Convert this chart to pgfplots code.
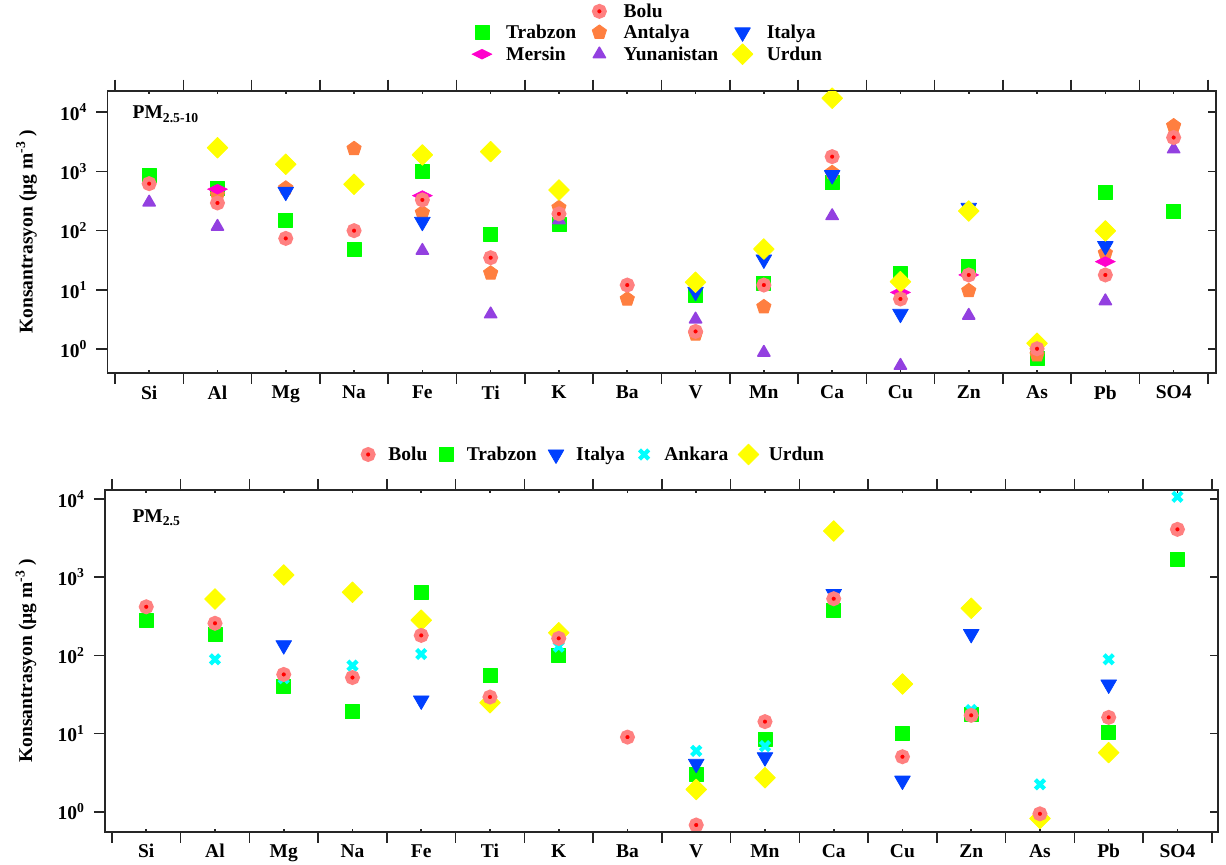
\documentclass[border=0pt]{standalone}
\usepackage{pgfplots}
\pgfplotsset{compat=1.18}
\usepackage{fontspec}
\setmainfont{Liberation Serif}
\definecolor{cBolu}{RGB}{255,128,128}
\definecolor{cTrab}{RGB}{0,255,0}
\definecolor{cAnt}{RGB}{255,127,64}
\definecolor{cIta}{RGB}{0,64,255}
\definecolor{cMer}{RGB}{255,0,204}
\definecolor{cYun}{RGB}{147,64,224}
\definecolor{cUrd}{RGB}{255,255,0}
\definecolor{cAnk}{RGB}{0,255,255}
\pgfplotsset{
  sBolu/.style={only marks, mark=*, mark size=4.9bp, mark options={draw=cBolu, fill=red, line width=5bp}},
  sTrab/.style={only marks, mark=square*, mark size=7bp, mark options={draw=cTrab, fill=cTrab, line width=0.8bp, line join=round}},
  sAnt/.style={only marks, mark=pentagon*, mark size=7.5bp, mark options={draw=cAnt, fill=cAnt, line width=0.8bp, line join=round}},
  sIta/.style={only marks, mark=triangle*, mark size=9bp, mark options={draw=cIta, fill=cIta, rotate=180, line width=0.8bp, line join=round}},
  sMer/.style={only marks, mark=diamond*, mark size=10bp, mark options={draw=cMer, fill=cMer, xscale=1.33, yscale=0.5, line width=0.5bp}},
  sYun/.style={only marks, mark=triangle*, mark size=7bp, mark options={draw=cYun, fill=cYun, line width=1.5bp, line join=round}},
  sUrd/.style={only marks, mark=square*, mark size=7.3bp, mark options={draw=cUrd, fill=cUrd, rotate=45, line width=0.8bp, line join=round}},
  sAnk/.style={only marks, mark=x, mark size=6.5bp, mark options={draw=cAnk, line width=4.2bp}},
}
\begin{document}
\begin{tikzpicture}[font=\fontsize{19.5bp}{23bp}\selectfont\bfseries]
\useasboundingbox (0,0) rectangle (1226bp,-865bp);
% ---------- top panel ----------
\begin{axis}[at={(107.5bp,-373bp)}, anchor=south west, width=1108.5bp, height=282.3bp,
  scale only axis, ymode=log, yminorticks=false, clip=false,
  xmin=-0.61, xmax=15.62, ymin=0.398, ymax=22900,
  axis line style={line width=1.6bp, black!85},
  tick style={line width=1.6bp, black!85},
  major tick length=11bp, tick align=outside,
  xtick={-0.5,0.5,...,15.5}, xticklabels={},
  xtick pos=both, ytick pos=left,
  ytick={1,10,100,1000,10000},
  yticklabels={10\textsuperscript{0},10\textsuperscript{1},10\textsuperscript{2},10\textsuperscript{3},10\textsuperscript{4}},
  yticklabel style={xshift=-6bp},
  extra x ticks={0,1,...,15},
  extra x tick labels={Si,Al,Mg,Na,Fe,Ti,K,Ba,V,Mn,Ca,Cu,Zn,As,Pb,SO4},
  extra x tick style={major tick length=3bp, tick align=inside, tick label style={yshift=-9bp}},
  ylabel={Konsantrasyon (µg m\textsuperscript{-3} )},
  ylabel style={at={(axis description cs:-0.073,0.5)}, anchor=center},
  legend columns=3, legend cell align=left,
  legend image code/.code={\path (-9bp,0bp) (22bp,0bp); \draw[mark repeat=2,mark phase=2,#1] plot coordinates {(-1bp,0bp) (0bp,0bp) (1bp,0bp)};},
  legend style={draw=none, fill=none, anchor=south, at={(axis description cs:0.4876,1)}, yshift=24bp, row sep=2bp,
     /tikz/every even column/.append style={column sep=12bp}}]
\addlegendimage{empty legend}\addlegendentry{}
\addlegendimage{sBolu}\addlegendentry{Bolu}
\addlegendimage{empty legend}\addlegendentry{}
\addlegendimage{sTrab}\addlegendentry{Trabzon}
\addlegendimage{sAnt}\addlegendentry{Antalya}
\addlegendimage{sIta}\addlegendentry{Italya}
\addlegendimage{sMer}\addlegendentry{Mersin}
\addlegendimage{sYun}\addlegendentry{Yunanistan}
\addlegendimage{sUrd}\addlegendentry{Urdun}
\addplot[sTrab, forget plot] coordinates {(0,870) (1,520) (2,151) (3,48.6) (4,1015) (5,87) (6,129) (8,8.2) (9,13) (10,645) (11,19.2) (12,24.7) (13,0.70) (14,437) (15,210)};
\addplot[sAnt, forget plot] coordinates {(1,400) (2,520) (3,2410) (4,200) (5,19.2) (6,244) (7,7.0) (8,1.8) (9,5.2) (10,950) (12,9.7) (13,0.80) (14,41.6) (15,5830)};
\addplot[sIta, forget plot] coordinates {(2,453) (4,141) (8,9.3) (9,32.7) (10,863) (11,3.97) (12,243) (14,55)};
\addplot[sMer, forget plot] coordinates {(1,500) (4,390) (11,9.1) (12,17.9) (14,30)};
\addplot[sYun, forget plot] coordinates {(0,300) (1,117) (4,46) (5,3.9) (6,151) (8,3.2) (9,0.88) (10,177) (11,0.53) (12,3.7) (14,6.5) (15,2360)};
\addplot[sUrd, forget plot] coordinates {(1,2500) (2,1320) (3,605) (4,1890) (5,2150) (6,486) (8,13.5) (9,49) (10,17100) (11,13.8) (12,214) (13,1.26) (14,99)};
\addplot[sBolu, forget plot] coordinates {(0,620) (1,293) (2,74) (3,100) (4,330) (5,35) (6,192) (7,12.1) (8,2.0) (9,12.1) (10,1770) (11,7.05) (12,17.9) (13,1.02) (14,17.9) (15,3720)};
\node[anchor=base west] at (axis description cs:0.0195,0.9) {PM\textsubscript{2.5-10}};
\end{axis}
\begin{axis}[at={(107.5bp,-373bp)}, anchor=south west, width=1108.5bp, height=282.3bp,
  scale only axis, ymode=log, yminorticks=false,
  xmin=-0.61, xmax=15.62, ymin=0.398, ymax=22900,
  axis line style={line width=1.6bp, black!85},
  tick style={line width=1.6bp, black!85},
  major tick length=8bp, tick align=inside,
  xtick=\empty, ytick pos=right, ytick={1,10,100,1000,10000}, yticklabels={}]
\end{axis}
% ---------- bottom panel ----------
\begin{axis}[at={(105bp,-831.7bp)}, anchor=south west, width=1113bp, height=341.7bp,
  scale only axis, ymode=log, yminorticks=false, clip=false,
  xmin=-0.6, xmax=15.59, ymin=0.555, ymax=13030,
  axis line style={line width=1.6bp, black!85},
  tick style={line width=1.6bp, black!85},
  major tick length=11bp, tick align=outside,
  xtick={-0.5,0.5,...,15.5}, xticklabels={},
  xtick pos=both, ytick pos=left,
  ytick={1,10,100,1000,10000},
  yticklabels={10\textsuperscript{0},10\textsuperscript{1},10\textsuperscript{2},10\textsuperscript{3},10\textsuperscript{4}},
  yticklabel style={xshift=-6bp},
  extra x ticks={0,1,...,15},
  extra x tick labels={Si,Al,Mg,Na,Fe,Ti,K,Ba,V,Mn,Ca,Cu,Zn,As,Pb,SO4},
  extra x tick style={major tick length=3bp, tick align=inside, tick label style={yshift=-9bp}},
  ylabel={Konsantrasyon (µg m\textsuperscript{-3} )},
  ylabel style={at={(axis description cs:-0.071,0.5)}, anchor=center},
  legend columns=5, legend cell align=left,
  legend image code/.code={\path (-9bp,0bp) (18bp,0bp); \draw[mark repeat=2,mark phase=2,#1] plot coordinates {(-1bp,0bp) (0bp,0bp) (1bp,0bp)};},
  legend style={draw=none, fill=none, anchor=south, at={(axis description cs:0.438,1)}, yshift=23bp,
     /tikz/every even column/.append style={column sep=8bp}}]
\addlegendimage{sBolu}\addlegendentry{Bolu}
\addlegendimage{sTrab}\addlegendentry{Trabzon}
\addlegendimage{sIta}\addlegendentry{Italya}
\addlegendimage{sAnk}\addlegendentry{Ankara}
\addlegendimage{sUrd}\addlegendentry{Urdun}
\addplot[sTrab, forget plot] coordinates {(0,282) (1,187) (2,40.5) (3,19) (4,630) (5,55) (6,99) (8,3.03) (9,8.4) (10,376) (11,9.9) (12,17.8) (14,10.4) (15,1690)};
\addplot[sIta, forget plot] coordinates {(2,135) (4,26.5) (8,4.1) (9,4.98) (10,611) (11,2.5) (12,188) (14,42.4)};
\addplot[sAnk, forget plot] coordinates {(1,89) (2,51) (3,74) (4,104) (6,129) (8,6.0) (9,6.9) (12,20) (13,2.24) (14,89) (15,10670)};
\addplot[sUrd, forget plot] coordinates {(1,525) (2,1065) (3,640) (4,282) (5,24.8) (6,195) (8,1.93) (9,2.72) (10,3890) (11,43) (12,400) (13,0.82) (14,5.7)};
\addplot[sBolu, forget plot] coordinates {(0,418) (1,257) (2,57) (3,52) (4,180) (5,29.3) (6,165) (7,9.0) (8,0.676) (9,14.2) (10,530) (11,5.05) (12,17.1) (13,0.94) (14,16.1) (15,4090)};
\node[anchor=base west] at (axis description cs:0.0216,0.906) {PM\textsubscript{2.5}};
\end{axis}
\begin{axis}[at={(105bp,-831.7bp)}, anchor=south west, width=1113bp, height=341.7bp,
  scale only axis, ymode=log, yminorticks=false,
  xmin=-0.6, xmax=15.59, ymin=0.555, ymax=13030,
  axis line style={line width=1.6bp, black!85},
  tick style={line width=1.6bp, black!85},
  major tick length=8bp, tick align=inside,
  xtick=\empty, ytick pos=right, ytick={1,10,100,1000,10000}, yticklabels={}]
\end{axis}
\end{tikzpicture}
\end{document}
